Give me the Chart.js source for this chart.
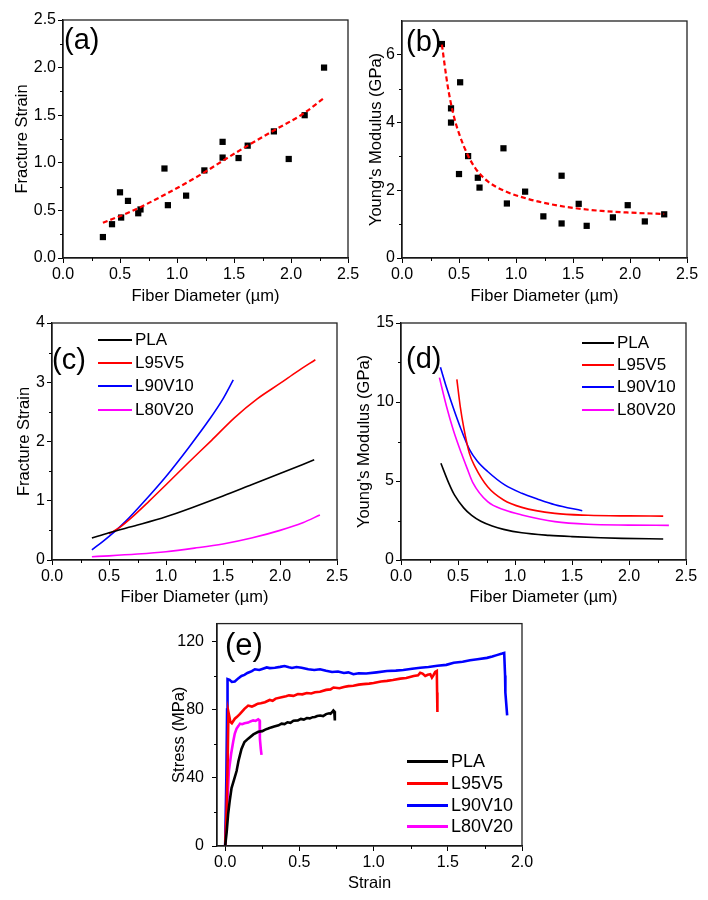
<!DOCTYPE html>
<html>
<head>
<meta charset="utf-8">
<script src="https://cdn.jsdelivr.net/npm/chart.js@4.4.1/dist/chart.umd.min.js"></script>
<style>
html, body { margin: 0; padding: 0; background: #fff; }
#page { position: relative; width: 708px; height: 900px; overflow: hidden;
        font-family: "Liberation Sans", Arial, sans-serif; color: #000; }
canvas { position: absolute; }
.tag { position: absolute; line-height: 1; white-space: nowrap; }
.leg { position: absolute; white-space: nowrap; }
.leg div { display: flex; align-items: center; }
.leg i { display: inline-block; margin-right: 3px; }
</style>
</head>
<body>
<div id="page"></div>
<script>
const FONT = '"Liberation Sans", Arial, sans-serif';

// (a) fracture strain of single fibres + fitted trend
const diamA      = [0.35, 0.43, 0.50, 0.51, 0.57, 0.66, 0.68, 0.89, 0.92, 1.08, 1.24, 1.40, 1.40, 1.54, 1.62, 1.85, 1.98, 2.12, 2.29];
const strainA    = [0.22, 0.355, 0.69, 0.425, 0.60, 0.47, 0.51, 0.94, 0.555, 0.655, 0.92, 1.22, 1.055, 1.05, 1.18, 1.33, 1.04, 1.50, 2.00];
const fitDiamA   = [0.35, 0.60, 0.90, 1.20, 1.40, 1.62, 1.85, 2.10, 2.29];
const fitStrainA = [0.37, 0.49, 0.67, 0.87, 1.02, 1.18, 1.34, 1.51, 1.68];

// (b) Young's modulus of single fibres + fitted trend
const diamB     = [0.35, 0.43, 0.43, 0.50, 0.51, 0.58, 0.665, 0.68, 0.89, 0.92, 1.08, 1.24, 1.40, 1.40, 1.55, 1.62, 1.85, 1.98, 2.13, 2.30];
const modulusB  = [6.32, 4.42, 4.00, 2.48, 5.19, 3.01, 2.37, 2.08, 3.24, 1.61, 1.96, 1.23, 2.43, 1.02, 1.60, 0.95, 1.20, 1.56, 1.08, 1.29];
const fitDiamB  = [0.35, 0.40, 0.45, 0.50, 0.58, 0.65, 0.75, 0.90, 1.10, 1.30, 1.50, 1.75, 2.00, 2.30];
const fitModB   = [6.30, 5.10, 4.25, 3.68, 3.02, 2.62, 2.27, 1.98, 1.75, 1.59, 1.48, 1.39, 1.34, 1.30];

// (c) fitted fracture strain per blend
const cPlaD  = [0.35, 0.50, 0.75, 1.00, 1.25, 1.50, 1.75, 2.00, 2.30];
const cPlaS  = [0.37, 0.46, 0.59, 0.73, 0.90, 1.08, 1.27, 1.46, 1.69];
const cL95D  = [0.50, 0.60, 0.70, 0.85, 1.00, 1.20, 1.40, 1.60, 1.80, 2.00, 2.15, 2.31];
const cL95S  = [0.44, 0.56, 0.72, 0.99, 1.27, 1.65, 2.02, 2.40, 2.72, 2.98, 3.18, 3.38];
const cL90D  = [0.35, 0.45, 0.55, 0.65, 0.80, 1.00, 1.20, 1.38, 1.50, 1.59];
const cL90S  = [0.17, 0.32, 0.48, 0.66, 0.97, 1.41, 1.90, 2.37, 2.72, 3.04];
const cL80D  = [0.35, 0.50, 0.75, 1.00, 1.25, 1.50, 1.75, 2.00, 2.20, 2.35];
const cL80S  = [0.056, 0.07, 0.10, 0.14, 0.20, 0.27, 0.37, 0.50, 0.63, 0.76];

// (d) fitted Young's modulus per blend
const dPlaD  = [0.35, 0.42, 0.47, 0.55, 0.62, 0.70, 0.80, 0.90, 1.06, 1.30, 1.50, 1.75, 1.94, 2.30];
const dPlaM  = [6.12, 4.85, 4.10, 3.30, 2.82, 2.45, 2.15, 1.94, 1.72, 1.56, 1.48, 1.41, 1.37, 1.33];
const dL95D  = [0.49, 0.52, 0.55, 0.60, 0.65, 0.76, 0.90, 1.06, 1.35, 1.64, 2.00, 2.30];
const dL95M  = [11.43, 9.70, 8.40, 6.75, 5.90, 4.64, 3.80, 3.33, 2.95, 2.83, 2.79, 2.78];
const dL90D  = [0.346, 0.40, 0.46, 0.52, 0.60, 0.67, 0.76, 0.91, 1.06, 1.20, 1.35, 1.59];
const dL90M  = [12.2, 10.9, 9.60, 8.40, 7.00, 6.25, 5.60, 4.75, 4.22, 3.85, 3.50, 3.12];
const dL80D  = [0.337, 0.40, 0.46, 0.53, 0.58, 0.63, 0.76, 0.91, 1.06, 1.35, 1.64, 2.00, 2.35];
const dL80M  = [11.54, 9.70, 8.20, 6.75, 5.80, 4.90, 3.69, 3.16, 2.85, 2.43, 2.26, 2.21, 2.19];

// (e) stress-strain curves
const ePlaStrain = [0, 0.01, 0.02, 0.03, 0.043, 0.06, 0.077, 0.09, 0.11, 0.13, 0.155, 0.19, 0.223, 0.25, 0.27, 0.29, 0.31, 0.33, 0.36, 0.38, 0.40, 0.42, 0.44, 0.46, 0.49, 0.51, 0.53, 0.55, 0.57, 0.59, 0.605, 0.62, 0.64, 0.66, 0.68, 0.70, 0.71, 0.72, 0.729, 0.735, 0.738, 0.74];
const ePlaStress = [0, 8, 18.7, 26, 34, 39, 44, 50, 57, 61, 63, 65.5, 67, 67.4, 68.3, 68.9, 69.6, 70.1, 70.8, 71.8, 71.5, 72.6, 72.3, 73.5, 73.7, 74.6, 74.2, 75.1, 74.9, 75.6, 75.7, 76.3, 76.6, 76.2, 77.4, 77.9, 77.6, 78.5, 79.5, 79.0, 75.5, 73.7];
const eL95Strain = [0, 0.01, 0.017, 0.022, 0.028, 0.035, 0.045, 0.065, 0.08, 0.10, 0.13, 0.155, 0.18, 0.20, 0.22, 0.24, 0.268, 0.30, 0.32, 0.34, 0.38, 0.41, 0.43, 0.46, 0.49, 0.52, 0.55, 0.58, 0.605, 0.639, 0.68, 0.71, 0.73, 0.77, 0.80, 0.83, 0.864, 0.90, 0.93, 0.97, 1.00, 1.05, 1.09, 1.13, 1.18, 1.22, 1.27, 1.30, 1.314, 1.33, 1.348, 1.365, 1.382, 1.393, 1.405, 1.415, 1.426, 1.428, 1.43];
const eL95Stress = [0, 22, 50, 78.6, 76, 72.8, 72, 74.7, 75.8, 77.5, 80.5, 82.4, 81.8, 82.6, 83.5, 83.8, 84.4, 85.7, 85.2, 86.5, 87.3, 87.9, 88.4, 88.1, 89.2, 89.0, 89.8, 89.5, 90.2, 90.5, 91.6, 91.9, 93.0, 92.6, 93.3, 93.8, 94.0, 94.7, 95.0, 95.3, 95.6, 96.5, 96.9, 97.4, 98.2, 98.6, 99.8, 100.2, 101.7, 101.2, 99.8, 100.5, 100.8, 98.8, 100.5, 102.1, 102.7, 90, 78.6];
const eL90Strain = [0, 0.008, 0.013, 0.016, 0.03, 0.045, 0.065, 0.09, 0.11, 0.13, 0.15, 0.18, 0.20, 0.23, 0.25, 0.28, 0.30, 0.335, 0.37, 0.40, 0.43, 0.45, 0.48, 0.515, 0.56, 0.60, 0.639, 0.68, 0.72, 0.76, 0.80, 0.83, 0.864, 0.90, 0.95, 1.02, 1.09, 1.15, 1.20, 1.26, 1.314, 1.37, 1.43, 1.49, 1.54, 1.60, 1.65, 1.70, 1.764, 1.80, 1.83, 1.866, 1.88, 1.886, 1.888, 1.90];
const eL90Stress = [0, 40, 80, 97.9, 97.5, 96.3, 96.5, 98.5, 99.8, 100.4, 101.5, 102.6, 103.7, 103.3, 103.9, 104.8, 104.4, 104.6, 105.1, 105.6, 104.9, 104.5, 105.0, 104.6, 103.7, 103.3, 103.7, 102.8, 102.1, 102.4, 101.5, 101.9, 100.8, 101.4, 101.2, 101.9, 102.7, 102.9, 103.3, 104.0, 104.6, 105.0, 105.8, 106.3, 107.5, 108.1, 109.0, 109.6, 110.4, 111.2, 112.0, 112.9, 113.3, 100, 90, 76.6];
const eL80Strain = [0, 0.009, 0.017, 0.025, 0.04, 0.054, 0.065, 0.077, 0.09, 0.10, 0.115, 0.13, 0.155, 0.17, 0.189, 0.205, 0.223, 0.232, 0.234, 0.24, 0.245];
const eL80Stress = [0.4, 16.8, 30, 43.8, 54, 61.2, 66, 68.9, 70.5, 71.8, 71.5, 72.0, 72.4, 73.1, 73.7, 73.4, 74.3, 73.7, 63, 57, 53.5];

// tick labels
const diamTicks    = [0, 0.5, 1, 1.5, 2, 2.5];
const diamMinor    = [0.25, 0.75, 1.25, 1.75, 2.25];
const strainTicksA = [0, 0.5, 1, 1.5, 2, 2.5];
const strainMinorA = [0.25, 0.75, 1.25, 1.75, 2.25];
const modTicksB    = [0, 2, 4, 6];
const modMinorB    = [1, 3, 5];
const strainTicksC = [0, 1, 2, 3, 4];
const strainMinorC = [0.5, 1.5, 2.5, 3.5];
const modTicksD    = [0, 5, 10, 15];
const modMinorD    = [2.5, 7.5, 12.5];
const strainTicksE = [0, 0.5, 1, 1.5, 2];
const strainMinorE = [0.25, 0.75, 1.25, 1.75];
const stressTicks  = [0, 40, 80, 120];
const stressMinor  = [20, 60, 100];

const BLENDS = ['PLA', 'L95V5', 'L90V10', 'L80V20'];
const COLORS = ['#000000', '#ff0000', '#0000ff', '#ff00ff'];

const page = document.getElementById('page');
const pts = (xs, ys) => xs.map((x, i) => ({ x, y: ys[i] }));
const fix1 = v => Number(v).toFixed(1);
const int0 = v => String(Math.round(v));

// frame around the plot + short minor ticks on the outer side
const framePlugin = {
    id: 'frame',
    afterDraw(chart, args, opts) {
        const { ctx, chartArea: a, scales } = chart;
        ctx.save();
        ctx.strokeStyle = '#222';
        ctx.lineWidth = 1.3;
        ctx.strokeRect(a.left, a.top, a.right - a.left, a.bottom - a.top);
        ctx.lineWidth = 1;
        ctx.strokeStyle = '#000';
        ctx.beginPath();
        (opts.xMinor || []).forEach(v => {
            const p = Math.round(scales.x.getPixelForValue(v)) + 0.5;
            ctx.moveTo(p, a.bottom); ctx.lineTo(p, a.bottom + 3);
        });
        (opts.yMinor || []).forEach(v => {
            const p = Math.round(scales.y.getPixelForValue(v)) + 0.5;
            ctx.moveTo(a.left, p); ctx.lineTo(a.left - 3, p);
        });
        ctx.stroke();
        ctx.restore();
    }
};

function axis(s, size, dir, titlePad) {
    return {
        type: 'linear',
        min: s.min,
        max: s.max,
        afterBuildTicks: sc => { sc.ticks = s.ticks.map(v => ({ value: v })); },
        afterFit: sc => { if (dir === 'x') sc.height = size; else sc.width = size; },
        grid:   { drawOnChartArea: false, tickLength: 5, color: '#000', lineWidth: 1 },
        border: { color: '#000', width: 1.3 },
        ticks: {
            color: '#000', padding: s.pad || 2, autoSkip: false, maxRotation: 0,
            font: { family: FONT, size: 16 },
            callback: v => s.fmt(v),
        },
        title: {
            display: true, text: s.title, color: '#000',
            font: { family: FONT, size: 16.5 },
            padding: dir === 'x' ? { top: 0, bottom: titlePad } : { top: titlePad, bottom: 0 },
        },
    };
}

// box = plot area in page pixels, yTitleX / xTitleY = centres of the axis titles
function panel(box, yW, yTitleX, xTitleY, datasets, sx, sy) {
    const xH = 50, padT = 14, padR = 24;
    const w = box.r - box.l + yW + padR;
    const h = box.b - box.t + padT + xH;
    const c = document.createElement('canvas');
    c.width = w; c.height = h;
    c.style.left = (box.l - yW) + 'px';
    c.style.top = (box.t - padT) + 'px';
    c.style.width = w + 'px';
    c.style.height = h + 'px';
    page.appendChild(c);
    new Chart(c, {
        type: 'scatter',
        data: { datasets },
        options: {
            responsive: false,
            animation: false,
            devicePixelRatio: 1,
            layout: { padding: { top: padT, right: padR, left: 0, bottom: 0 } },
            plugins: {
                legend: { display: false },
                tooltip: { enabled: false },
                frame: { xMinor: sx.minor, yMinor: sy.minor },
            },
            scales: {
                x: axis(sx, xH, 'x', box.b + xH - xTitleY - 9.9),
                y: axis(sy, yW, 'y', yTitleX - (box.l - yW) - 9.9),
            },
        },
        plugins: [framePlugin],
    });
}

function curve(label, data, color, width, dash) {
    return {
        label, data,
        showLine: true,
        borderColor: color,
        backgroundColor: color,
        borderWidth: width,
        borderDash: dash || [],
        pointRadius: 0,
        cubicInterpolationMode: 'monotone',
        fill: false,
    };
}

function squares(label, data) {
    return {
        label, data,
        pointStyle: 'rect',
        pointRadius: 4.4,
        backgroundColor: '#000',
        borderColor: '#000',
        borderWidth: 0,
    };
}

function tag(text, left, top, size) {
    const d = document.createElement('div');
    d.className = 'tag';
    d.style.left = left + 'px';
    d.style.top = top + 'px';
    d.style.fontSize = size + 'px';
    d.textContent = text;
    page.appendChild(d);
}

function legend(left, top, rowH, lineW, lineH, size) {
    const box = document.createElement('div');
    box.className = 'leg';
    box.style.left = left + 'px';
    box.style.top = top + 'px';
    box.style.fontSize = size + 'px';
    BLENDS.forEach((name, i) => {
        const row = document.createElement('div');
        row.style.height = rowH + 'px';
        const sw = document.createElement('i');
        sw.style.width = lineW + 'px';
        sw.style.height = lineH + 'px';
        sw.style.background = COLORS[i];
        const t = document.createElement('span');
        t.textContent = name;
        row.appendChild(sw);
        row.appendChild(t);
        box.appendChild(row);
    });
    page.appendChild(box);
}

const diamAxis = { min: 0, max: 2.5, ticks: diamTicks, minor: diamMinor, fmt: fix1, title: 'Fiber Diameter (\u00b5m)' };

// (a)
panel({ l: 63, r: 348, t: 20, b: 258 }, 60, 22.5, 296, [
    curve('fit', pts(fitDiamA, fitStrainA), '#ff0000', 2.2, [5, 3]),
    squares('data', pts(diamA, strainA)),
], diamAxis,
{ min: 0, max: 2.5, ticks: strainTicksA, minor: strainMinorA, fmt: fix1, title: 'Fracture Strain' });

// (b)
panel({ l: 402, r: 687, t: 21, b: 258 }, 60, 376, 296, [
    curve('fit', pts(fitDiamB, fitModB), '#ff0000', 2.2, [5, 3]),
    squares('data', pts(diamB, modulusB)),
], diamAxis,
{ min: 0, max: 7, ticks: modTicksB, minor: modMinorB, fmt: int0, title: "Young's Modulus (GPa)" });

// (c)
panel({ l: 52, r: 337, t: 323, b: 560 }, 50, 24.5, 597, [
    curve(BLENDS[0], pts(cPlaD, cPlaS), COLORS[0], 1.6),
    curve(BLENDS[1], pts(cL95D, cL95S), COLORS[1], 1.6),
    curve(BLENDS[2], pts(cL90D, cL90S), COLORS[2], 1.6),
    curve(BLENDS[3], pts(cL80D, cL80S), COLORS[3], 1.6),
], diamAxis,
{ min: 0, max: 4, ticks: strainTicksC, minor: strainMinorC, fmt: int0, title: 'Fracture Strain' });

// (d)
panel({ l: 401, r: 686, t: 323, b: 560 }, 60, 364, 597, [
    curve(BLENDS[0], pts(dPlaD, dPlaM), COLORS[0], 1.6),
    curve(BLENDS[1], pts(dL95D, dL95M), COLORS[1], 1.6),
    curve(BLENDS[2], pts(dL90D, dL90M), COLORS[2], 1.6),
    curve(BLENDS[3], pts(dL80D, dL80M), COLORS[3], 1.6),
], diamAxis,
{ min: 0, max: 15, ticks: modTicksD, minor: modMinorD, fmt: int0, title: "Young's Modulus (GPa)" });

// (e) raw tensile curves, no smoothing
const eCurves = [
    curve(BLENDS[0], pts(ePlaStrain, ePlaStress), COLORS[0], 2.6),
    curve(BLENDS[1], pts(eL95Strain, eL95Stress), COLORS[1], 2.6),
    curve(BLENDS[2], pts(eL90Strain, eL90Stress), COLORS[2], 2.6),
    curve(BLENDS[3], pts(eL80Strain, eL80Stress), COLORS[3], 2.6),
];
eCurves.forEach(d => { d.cubicInterpolationMode = 'default'; d.tension = 0; });
panel({ l: 217, r: 522, t: 620, b: 846 }, 60, 179, 883, eCurves,
{ min: -0.055, max: 2.0, ticks: strainTicksE, minor: strainMinorE, fmt: fix1, title: 'Strain' },
{ min: 0, max: 130.5, ticks: stressTicks, minor: stressMinor, fmt: int0, pad: 8, title: 'Stress (MPa)' });

// panel letters and legends
tag('(a)', 64, 25, 29);
tag('(b)', 406, 27, 29);
tag('(c)', 52, 345, 29);
tag('(d)', 406, 344, 29);
tag('(e)', 225, 629, 31);

legend(98, 328.5, 23.2, 34, 2, 17);
legend(582, 332, 22.2, 32, 2, 17);
legend(407, 751, 21.7, 41, 3, 18);
</script>
</body>
</html>
